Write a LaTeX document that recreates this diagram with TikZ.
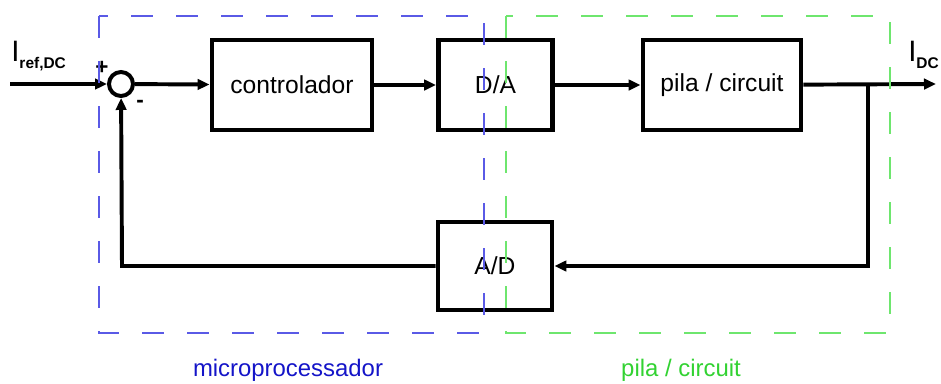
\documentclass[tikz,border=0pt]{standalone}
\usepackage{fontspec}
\setmainfont{Liberation Sans}
\usetikzlibrary{arrows.meta, calc}
\definecolor{azulmicro}{HTML}{5A5AE6}
\definecolor{azultexto}{HTML}{1414C8}
\definecolor{verdepila}{HTML}{6EE66E}
\definecolor{verdetexto}{HTML}{32D232}
\newcommand{\subind}[1]{\raisebox{-5pt}{\fontsize{11}{12}\selectfont\bfseries #1}}
\tikzset{
  bloque/.style={
    draw=black, line width=3.4pt, inner sep=0pt,
    font=\fontsize{17.5}{20}\selectfont
  },
  senyal/.style={line width=2.8pt, -{Triangle[length=3mm, width=2.6mm]}},
  zona/.style={line width=1pt, dash pattern=on 0.55cm off 0.575cm},
  etiquetaZona/.style={font=\fontsize{17}{20}\selectfont},
  sumador/.style={circle, draw=black, line width=2.8pt, minimum size=0.6cm, inner sep=0pt},
}
\begin{document}
\begin{tikzpicture}[x=0.025cm, y=-0.025cm]
    \useasboundingbox (0,0) rectangle (941,383);

    % bloques
    \node[sumador] (suma) at (121,84) {};
    \node[bloque, minimum width=4cm, minimum height=2.25cm] (ctrl) at (292,85) {controlador};
    \node[bloque, minimum width=2.85cm, minimum height=2.25cm] (da) at (495.5,85) {D/A};
    \node[bloque, minimum width=3.95cm, minimum height=2.25cm] (pila) at (722,85) {pila / circuit};
    \node[bloque, minimum width=2.85cm, minimum height=2.2cm] (ad) at (495,266) {A/D};

    \coordinate (entrada) at (10,84);
    \coordinate (salida) at (936,84);
    \coordinate (nodoSal) at (868,84);
    \coordinate (esqDer) at (868,266);
    \coordinate (esqIzq) at (122,266);

    % conexiones
    \draw[senyal] (entrada) -- (suma);
    \draw[senyal] (suma) -- (ctrl);
    \draw[senyal] (ctrl) -- (da);
    \draw[senyal] (da) -- (pila);
    \draw[senyal] (pila) -- (salida);
    \draw[senyal] (nodoSal) -- (esqDer) -- (ad);
    \draw[senyal] (ad) -- (esqIzq) -- (suma);

    % etiquetas
    \node[font=\fontsize{21}{22}\selectfont, anchor=base west, inner sep=0pt] (iref) at (11,61)
      {I\subind{ref,DC}};
    \node[font=\fontsize{21}{22}\selectfont, anchor=base west, inner sep=0pt] (idc) at (908,61)
      {I\subind{DC}};
    \node[font=\fontsize{16}{18}\selectfont\bfseries, inner sep=0pt] (mas) at (102,68) {+};
    \node[font=\fontsize{16}{18}\selectfont\bfseries, inner sep=0pt] (menos) at (140,104) {-};

    % zonas
    \draw[zona, azulmicro] (99,16) rectangle (484,333);
    \draw[zona, verdepila] (506,16) rectangle (890,333);
    \node[etiquetaZona, text=azultexto] (micro) at (288,370) {microprocessador};
    \node[etiquetaZona, text=verdetexto] (circ) at (681,370) {pila / circuit};
  \end{tikzpicture}
\end{document}
